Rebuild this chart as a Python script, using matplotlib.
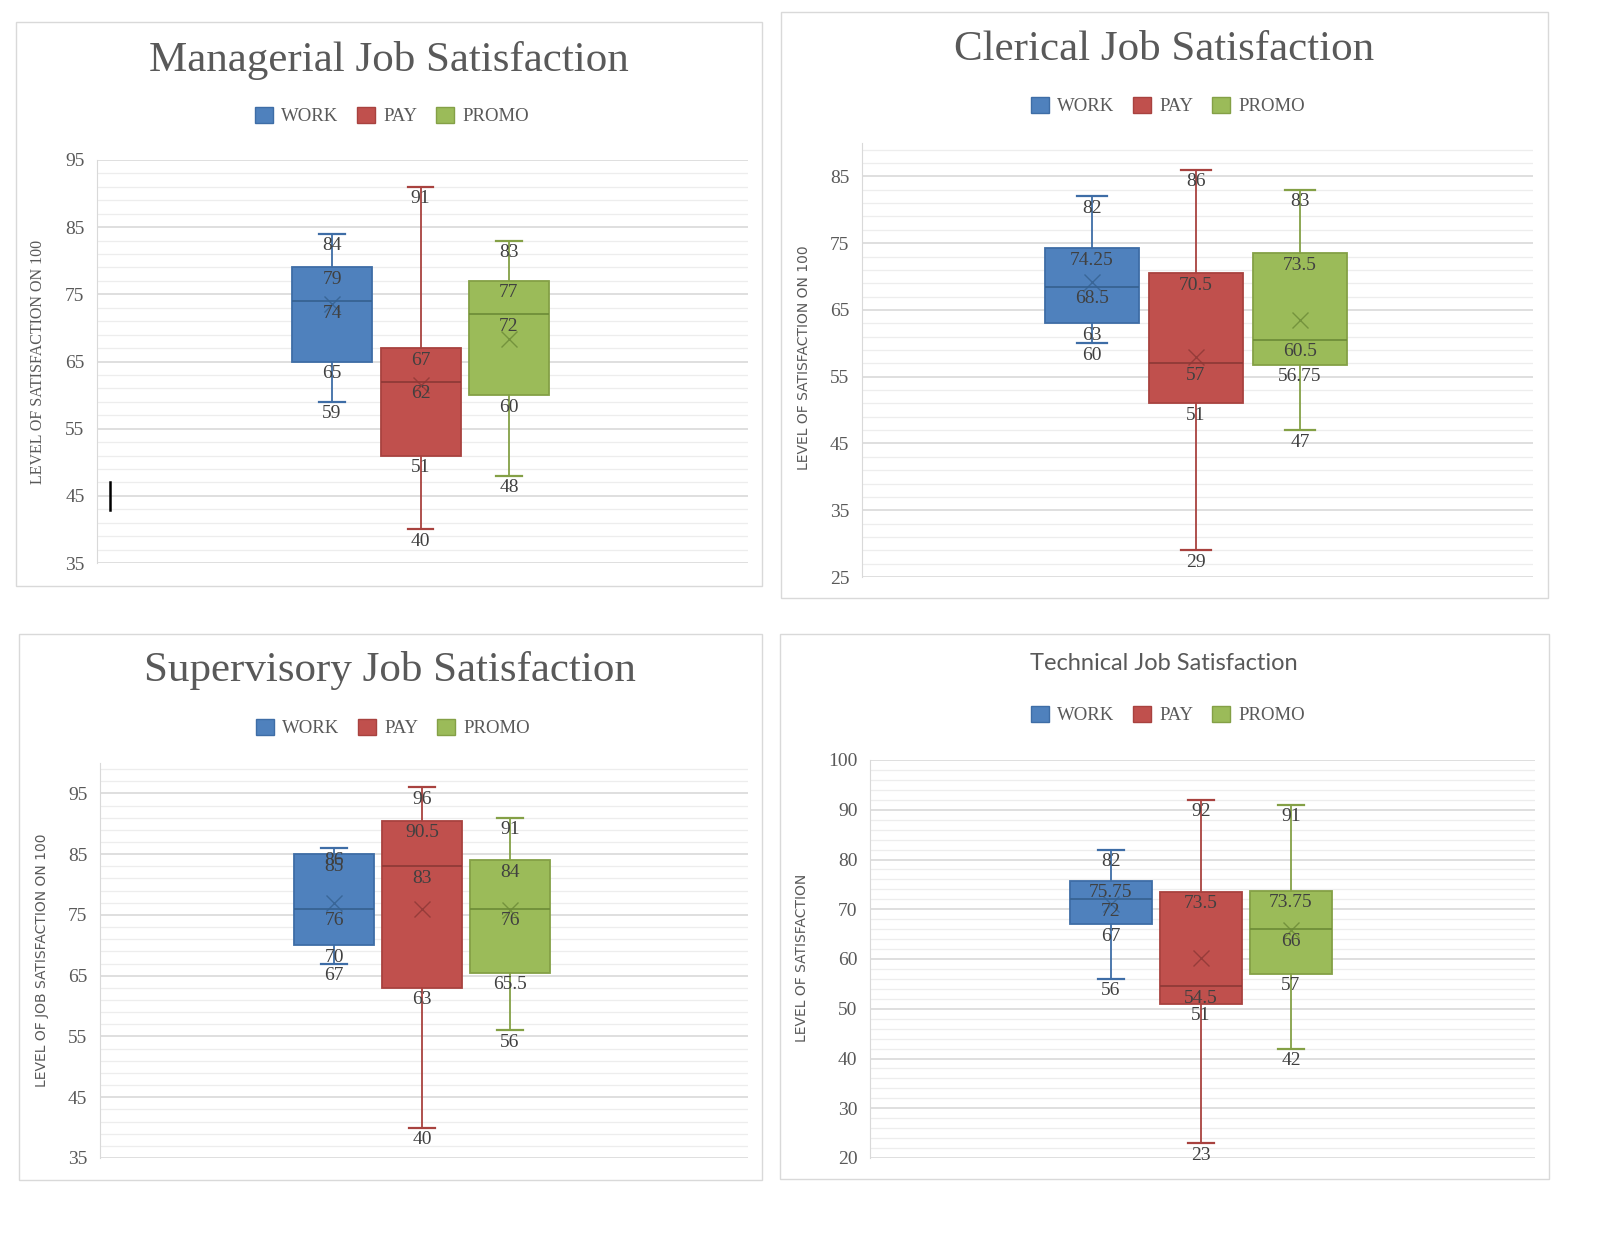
import numpy as np
import matplotlib
matplotlib.use('Agg')
import matplotlib.pyplot as plt
from matplotlib.patches import Patch, Rectangle

W, H = 1616, 1233

series = ['WORK', 'PAY', 'PROMO']
fill_colors = ['#4F81BD', '#C0504D', '#9BBB59']
edge_colors = ['#3E6DA6', '#A8423F', '#84A046']
dark_colors = ['#35608F', '#8C3836', '#6B8A37']

# values per series: WORK, PAY, PROMO
managerial_min = [59, 40, 48]
managerial_q1 = [65, 51, 60]
managerial_med = [74, 62, 72]
managerial_q3 = [79, 67, 77]
managerial_max = [84, 91, 83]
managerial_mean = [73.5, 61.5, 68.4]

clerical_min = [60, 29, 47]
clerical_q1 = [63, 51, 56.75]
clerical_med = [68.5, 57, 60.5]
clerical_q3 = [74.25, 70.5, 73.5]
clerical_max = [82, 86, 83]
clerical_mean = [69.2, 57.9, 63.5]

supervisory_min = [67, 40, 56]
supervisory_q1 = [70, 63, 65.5]
supervisory_med = [76, 83, 76]
supervisory_q3 = [85, 90.5, 84]
supervisory_max = [86, 96, 91]
supervisory_mean = [77, 76, 75.8]

technical_min = [56, 23, 42]
technical_q1 = [67, 51, 57]
technical_med = [72, 54.5, 66]
technical_q3 = [75.75, 73.5, 73.75]
technical_max = [82, 92, 91]
technical_mean = [71, 60.3, 65.8]

SERIF = 'Liberation Serif'
SANS = 'DejaVu Sans'
GRAY = '#595959'

fig = plt.figure(figsize=(W / 100, H / 100), dpi=100)


def px_rect(x0, y0, x1, y1):
    return [x0 / W, 1 - y1 / H, (x1 - x0) / W, (y1 - y0) / H]


panels = [
    dict(title='Managerial Job Satisfaction', tfont=SERIF, tsize=31, tpos=(389, 60),
         border=(16, 22, 762, 586), axes=(97, 160, 748, 563), ylim=(35, 95),
         major=np.arange(35, 96, 10), minor=np.arange(35, 96, 2),
         centers=(332, 420, 509), width=80, legend=(392, 116),
         ylabel='LEVEL OF SATISFACTION ON 100', yfont=SERIF, ysize=11.5, ypos=(38, 362),
         data=(managerial_min, managerial_q1, managerial_med, managerial_q3, managerial_max, managerial_mean)),
    dict(title='Clerical Job Satisfaction', tfont=SERIF, tsize=31, tpos=(1164, 50),
         border=(781, 12, 1548, 598), axes=(862, 143, 1533, 577), ylim=(25, 90),
         major=np.arange(25, 86, 10), minor=np.arange(25, 90, 2),
         centers=(1092, 1196, 1300), width=94, legend=(1168, 106),
         ylabel='LEVEL OF SATISFACTION ON 100', yfont=SANS, ysize=10, ypos=(804, 358),
         data=(clerical_min, clerical_q1, clerical_med, clerical_q3, clerical_max, clerical_mean)),
    dict(title='Supervisory Job Satisfaction', tfont=SERIF, tsize=31, tpos=(390, 671),
         border=(19, 634, 762, 1180), axes=(100, 763, 748, 1158), ylim=(35, 100),
         major=np.arange(35, 96, 10), minor=np.arange(35, 100, 2),
         centers=(334, 421, 510), width=80, legend=(393, 728),
         ylabel='LEVEL OF JOB SATISFACTION ON 100', yfont=SANS, ysize=10, ypos=(42, 960),
         data=(supervisory_min, supervisory_q1, supervisory_med, supervisory_q3, supervisory_max, supervisory_mean)),
    dict(title='Technical Job Satisfaction', tfont='Lato', tsize=17, tpos=(1164, 664),
         border=(780, 634, 1549, 1179), axes=(870, 760, 1535, 1158), ylim=(20, 100),
         major=np.arange(20, 101, 10), minor=np.arange(20, 101, 2),
         centers=(1111, 1201, 1291), width=82, legend=(1168, 715),
         ylabel='LEVEL OF SATISFACTION', yfont=SANS, ysize=10, ypos=(802, 958),
         data=(technical_min, technical_q1, technical_med, technical_q3, technical_max, technical_mean)),
]

for p in panels:
    # chart border
    bx0, by0, bx1, by1 = p['border']
    fig.add_artist(Rectangle((bx0 / W, 1 - by1 / H), (bx1 - bx0) / W, (by1 - by0) / H,
                             transform=fig.transFigure, fill=False, edgecolor='#D9D9D9', lw=1))

    ax = fig.add_axes(px_rect(*p['axes']))
    c = p['centers']
    step = (c[2] - c[0]) / 2
    ax.set_xlim(1 - (c[0] - p['axes'][0]) / step, 3 + (p['axes'][2] - c[2]) / step)
    ax.set_ylim(*p['ylim'])
    width = p['width'] / step

    mins, q1s, meds, q3s, maxs, means = p['data']
    for i in range(3):
        st = dict(whislo=mins[i], q1=q1s[i], med=meds[i], q3=q3s[i], whishi=maxs[i],
                  mean=means[i], fliers=[])
        ax.bxp([st], positions=[i + 1], widths=width, capwidths=width * 0.32,
               showmeans=True, patch_artist=True, manage_ticks=False,
               boxprops=dict(facecolor=fill_colors[i], edgecolor=edge_colors[i], lw=1.3),
               whiskerprops=dict(color=edge_colors[i], lw=1.3),
               capprops=dict(color=edge_colors[i], lw=1.6),
               medianprops=dict(color=dark_colors[i], lw=1.2),
               meanprops=dict(marker='x', markeredgecolor=dark_colors[i], markersize=11,
                              markeredgewidth=1.0, alpha=0.8),
               zorder=3)
        for v in (mins[i], q1s[i], meds[i], q3s[i], maxs[i]):
            ax.annotate(f'{v:g}', (i + 1, v), xytext=(0, -2.5), textcoords='offset points',
                        ha='center', va='top', fontsize=14, family=SERIF, color='#404040',
                        zorder=5)

    ax.set_yticks(p['major'])
    ax.set_yticks(p['minor'], minor=True)
    ax.set_xticks([])
    ax.grid(which='major', axis='y', color='#D9D9D9', lw=1.2)
    ax.grid(which='minor', axis='y', color='#EDEDED', lw=0.9)
    ax.set_axisbelow(True)
    for s in ['top', 'right', 'bottom']:
        ax.spines[s].set_visible(False)
    ax.spines['left'].set_color('#D9D9D9')
    ax.tick_params(axis='y', which='both', length=0, pad=9, labelsize=14, labelcolor=GRAY)
    for lab in ax.get_yticklabels():
        lab.set_family(SERIF)

    if p['title'].startswith('Managerial'):
        # stray text cursor mark
        xc = 1 + (110 - c[0]) / step
        ax.plot([xc, xc], [42.9, 47.1], color='black', lw=1.8, zorder=6)

    fig.text(p['tpos'][0] / W, 1 - p['tpos'][1] / H, p['title'], ha='center', va='center',
             fontsize=p['tsize'], family=p['tfont'], color=GRAY)
    fig.text(p['ypos'][0] / W, 1 - p['ypos'][1] / H, p['ylabel'], ha='center', va='center',
             rotation=90, fontsize=p['ysize'], family=p['yfont'], color=GRAY)

    handles = [Patch(facecolor=fill_colors[i], edgecolor=edge_colors[i], lw=1) for i in range(3)]
    fig.legend(handles, series, loc='center',
               bbox_to_anchor=(p['legend'][0] / W, 1 - p['legend'][1] / H),
               ncol=3, frameon=False, prop=dict(family=SERIF, size=13.5),
               labelcolor=GRAY, handlelength=0.95, handleheight=0.95,
               handletextpad=0.45, columnspacing=1.0, borderaxespad=0)

fig.savefig('out.png', dpi=100)
